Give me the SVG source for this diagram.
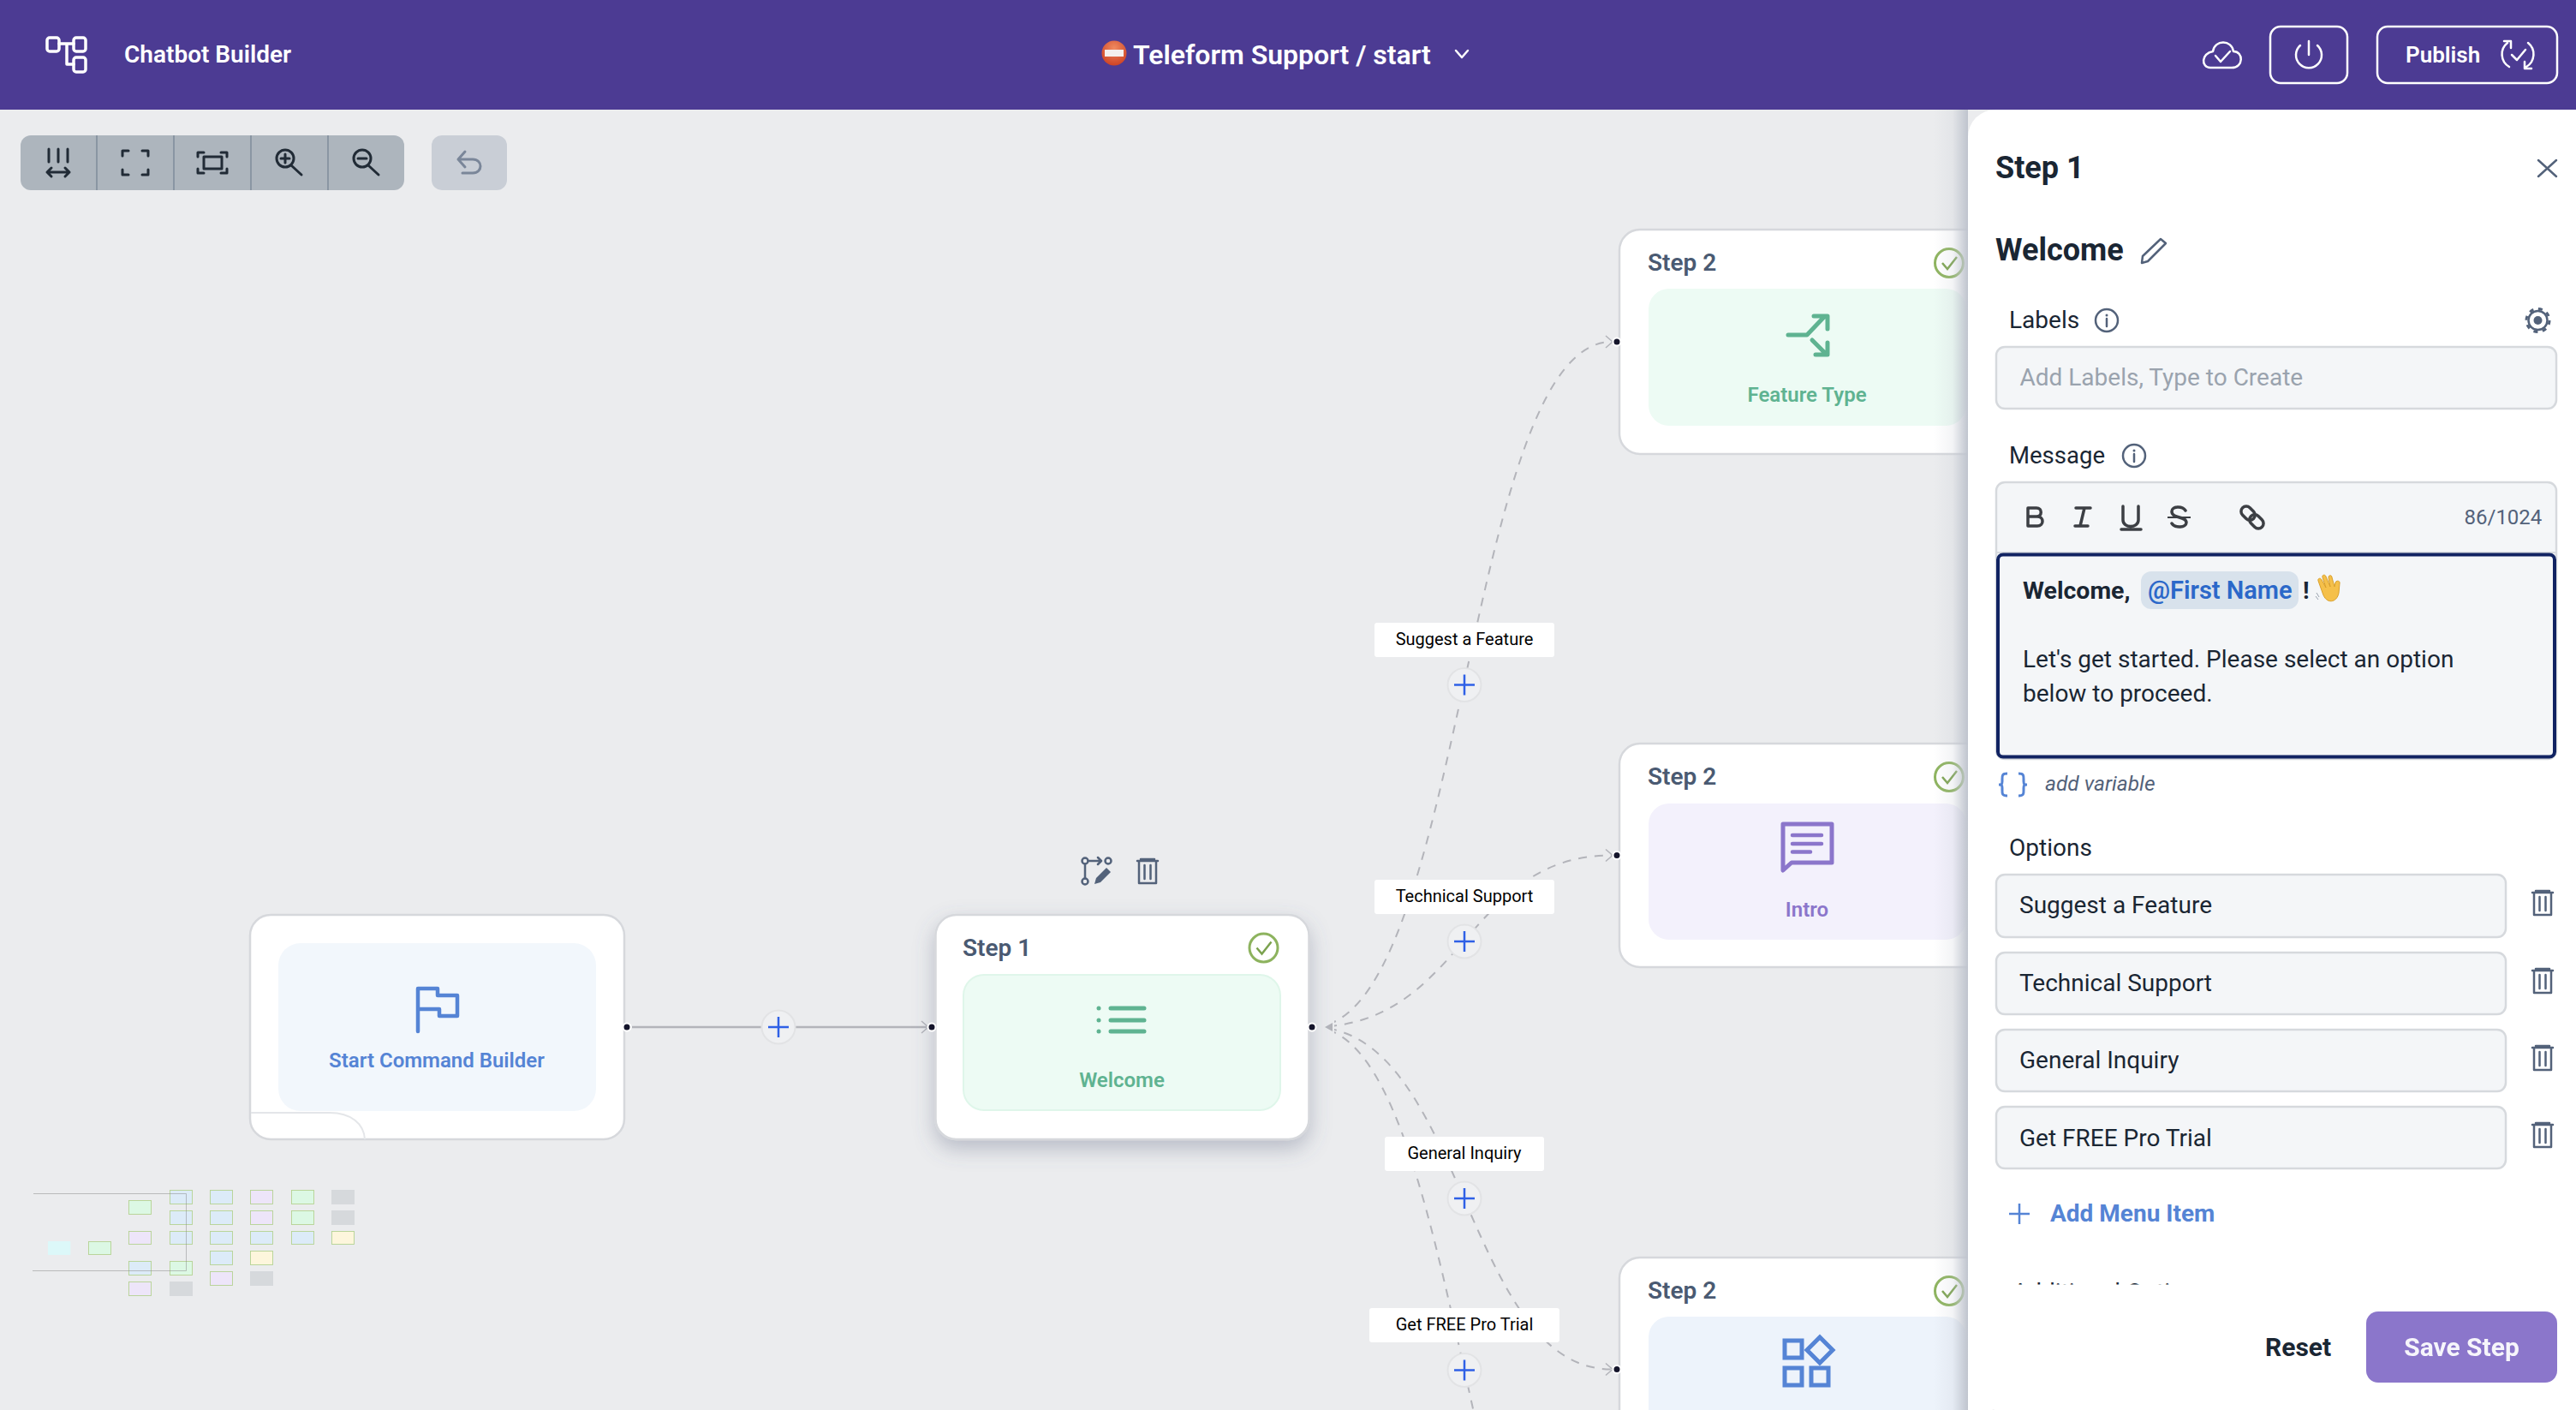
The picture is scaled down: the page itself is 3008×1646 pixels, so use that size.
<svg xmlns="http://www.w3.org/2000/svg" width="3008" height="1646" viewBox="0 0 3008 1646">
<style>
text{font-family:Roboto,"Liberation Sans",sans-serif}
.node{fill:#fff;stroke:#d6d8dc;stroke-width:2.5}
.step{font-size:28px;font-weight:600;fill:#4a5a72}
.cap{font-size:24px;font-weight:600;text-anchor:middle}
.edge{fill:none;stroke:#b3b4ba;stroke-width:2;stroke-dasharray:10 9}
.chev{fill:none;stroke:#b3b4ba;stroke-width:1.5}
.lab{fill:#fff}
.labt{font-size:20px;fill:#000;text-anchor:middle}
.pc{fill:#eff0f2;stroke:#e2e3e5;stroke-width:2}
.pl{stroke:#2f60e6;stroke-width:2.5;fill:none}
.h{fill:#15152b;stroke:#fff;stroke-width:2}
.tb{fill:none;stroke:#212b36;stroke-width:3;stroke-linecap:round;stroke-linejoin:round}
.wh{fill:none;stroke:#fff;stroke-width:2.5;stroke-linecap:round;stroke-linejoin:round}
.f{fill:#f4f6f8;stroke:#d6d9dd;stroke-width:2.5}
.ft{font-size:28px;fill:#1a2633}
.pd{font-size:28px;fill:#1a2633}
.ic{fill:none;stroke:#53627a;stroke-width:2.5;stroke-linecap:round;stroke-linejoin:round}
.rt{fill:none;stroke:#3c3f44;stroke-width:3.5;stroke-linecap:round;stroke-linejoin:round}
.mn{stroke:#b4d292;stroke-width:.9}
.gr{fill:#5fb391}.bl{fill:#5584d5}
</style>
<defs>
<symbol id="chk" overflow="visible"><circle r="16.5" fill="none" stroke="#8db35e" stroke-width="3"/><path d="M-8 0L-2 7L9-7" fill="none" stroke="#7ba24e" stroke-width="2.5"/></symbol>
<symbol id="bin" overflow="visible"><path class="ic" d="M-12-12H12M-8-14H8M-10-12V14H10V-12M-3.500-7V9M3.500-7V9"/></symbol>
<symbol id="info" overflow="visible"><circle r="13" class="ic" stroke-width="2"/><path d="M0-2V7" class="ic" stroke-width="2"/><circle cy="-6" r="1.500" fill="#53627a"/></symbol>
<filter id="sh" x="-20%" y="-20%" width="140%" height="150%"><feDropShadow dx="0" dy="10" stdDeviation="12" flood-color="#5a6480" flood-opacity=".35"/></filter>
<linearGradient id="pshade"><stop offset="0" stop-color="#bfc4ce" stop-opacity="0"/><stop offset=".55" stop-color="#bfc4ce" stop-opacity=".18"/><stop offset="1" stop-color="#bfc4ce"/></linearGradient>
<radialGradient id="stop" cx=".5" cy=".3" r=".8"><stop offset="0" stop-color="#f08a60"/><stop offset="1" stop-color="#c8391c"/></radialGradient>
<clipPath id="edgeclip"><rect x="1558" y="128" width="800" height="1518"/></clipPath>
<clipPath id="scrollclip"><rect x="2320" y="1400" width="688" height="99.500"/></clipPath>
</defs>
<rect width="3008" height="1646" fill="#ebecee"/>

<g id="header">
<rect width="3008" height="128" fill="#4c3b93"/>
<g class="wh" style="stroke-width:3.500"><rect x="55" y="44" width="14" height="16" rx="3"/><rect x="86" y="44" width="14" height="16" rx="3"/><rect x="86" y="67" width="14" height="17" rx="3"/><path d="M69 51H86M78 51V75H86"/></g>
<text x="145" y="73" font-size="28" font-weight="600" fill="#fff">Chatbot Builder</text>
<circle cx="1301" cy="62" r="14.500" fill="url(#stop)"/><rect x="1290" y="58" width="22" height="8" fill="#f4f0ee"/>
<text x="1323" y="75" font-size="32" font-weight="600" fill="#fff">Teleform Support / start</text>
<path class="wh" d="M1700 59L1707 67L1714 59"/>
<path class="wh" d="M2581 79H2606C2620 79 2620 60 2608 60C2606 46 2586 46 2584 60C2570 62 2570 79 2581 79ZM2587 65L2593 72L2604 60"/>
<rect x="2651" y="31" width="90" height="66" rx="12" class="wh"/>
<path class="wh" d="M2696 48V64M2686 53A15 15 0 1 0 2706 53"/>
<rect x="2776" y="31" width="210" height="66" rx="12" class="wh"/>
<text x="2809" y="73" font-size="26" font-weight="600" fill="#fff">Publish</text>
<path class="wh" d="M2928 50A17 17 0 0 0 2930 78M2952 50A17 17 0 0 1 2950 78M2924 48H2932V56M2956 80H2948V72M2933 64L2939 70L2949 58"/>
</g>

<g id="toolbar">
<rect x="24" y="158" width="448" height="64" rx="12" fill="#adb5bd"/>
<path d="M113 158V222M203 158V222M293 158V222M383 158V222" stroke="#8a96a3" stroke-width="2"/>
<path class="tb" d="M57 174V189M68 174V189M79 174V189M55 201H81M60 196L55 201L60 206M76 196L81 201L76 206"/>
<path class="tb" d="M143 182V176H150M166 176H173V182M143 198V204H150M166 204H173V198"/>
<path class="tb" d="M231 183V178H238M258 178H265V183M231 197V202H238M258 202H265V197"/><rect x="238" y="183" width="21" height="14" class="tb"/>
<circle cx="333" cy="185" r="10" class="tb"/><path class="tb" d="M340 193L352 204M328 185H338M333 180V190"/>
<circle cx="423" cy="185" r="10" class="tb"/><path class="tb" d="M430 193L442 204M418 185H428"/>
<rect x="504" y="158" width="88" height="64" rx="12" fill="#c9ced6"/>
<path class="tb" style="stroke:#7a8699" d="M543 177L535 186L543 195M535 186H552C564 186 564 202 552 202H540"/>
</g>

<g id="minimap">
<g class="mn">
<rect x="56" y="1449" width="26.300" height="16" fill="#dcf8f9" stroke="none"/>
<rect x="103.500" y="1449.500" width="26" height="15" fill="#dcf8e4"/>
<rect x="150.500" y="1401.500" width="26" height="16" fill="#dcf8e4"/><rect x="150.500" y="1437.500" width="26" height="15" fill="#ede5f9"/><rect x="150.500" y="1472.500" width="26" height="16" fill="#dcebf8"/><rect x="150.500" y="1496.500" width="26" height="16" fill="#ede5f9"/>
<rect x="198.500" y="1389.500" width="26" height="16" fill="#dcebf8"/><rect x="198.500" y="1413.500" width="26" height="16" fill="#dcebf8"/><rect x="198.500" y="1437.500" width="26" height="15" fill="#dcebf8"/><rect x="198.500" y="1472.500" width="26" height="16" fill="#dcf8e4"/><rect x="198" y="1496" width="27" height="17" fill="#d6d9dc" stroke="none"/>
<rect x="245.500" y="1389.500" width="26" height="16" fill="#dcebf8"/><rect x="245.500" y="1413.500" width="26" height="16" fill="#dcebf8"/><rect x="245.500" y="1437.500" width="26" height="15" fill="#dcebf8"/><rect x="245.500" y="1460.500" width="26" height="16" fill="#dcebf8"/><rect x="245.500" y="1484.500" width="26" height="16" fill="#ede5f9"/>
<rect x="292.500" y="1389.500" width="26" height="16" fill="#ede5f9"/><rect x="292.500" y="1413.500" width="26" height="16" fill="#ede5f9"/><rect x="292.500" y="1437.500" width="26" height="15" fill="#dcebf8"/><rect x="292.500" y="1460.500" width="26" height="16" fill="#fdf6dc"/><rect x="292" y="1484" width="27" height="17" fill="#d6d9dc" stroke="none"/>
<rect x="340.500" y="1389.500" width="26" height="16" fill="#dcf8e4"/><rect x="340.500" y="1413.500" width="26" height="16" fill="#dcf8e4"/><rect x="340.500" y="1437.500" width="26" height="15" fill="#dcebf8"/>
<rect x="387" y="1389" width="27" height="17" fill="#d6d9dc" stroke="none"/><rect x="387" y="1413" width="27" height="17" fill="#d6d9dc" stroke="none"/><rect x="387.500" y="1437.500" width="26" height="15" fill="#fdf6dc"/>
</g>
<path d="M39 1393.500H217.500V1483.500H38" fill="none" stroke="#888" stroke-opacity=".5" stroke-width="1"/>
</g>

<g id="start-node">
<rect x="292" y="1068" width="437" height="262" rx="24" class="node"/>
<rect x="325" y="1101" width="371" height="196" rx="26" fill="#f2f7fc"/>
<path d="M293 1299H385C410 1299 425 1312 426 1330" fill="none" stroke="#e4e6e9" stroke-width="2"/>
<path d="M488 1204V1154H511V1162H534V1186H513V1178H488" fill="none" stroke="#5584d5" stroke-width="4.500" stroke-linejoin="round" stroke-linecap="round"/>
<text x="510" y="1246" class="cap bl">Start Command Builder</text>
</g>

<g id="connectors">
<path d="M738 1199H1082" stroke="#b3b4ba" stroke-width="2.500" fill="none"/>
<path class="chev" d="M1076 1192L1084 1199L1076 1206"/>
<g clip-path="url(#edgeclip)">
<path class="edge" d="M1532 1199C1710 1199 1710 399 1882 399"/>
<path class="edge" d="M1532 1199C1710 1199 1710 998.500 1882 998.500"/>
<path class="edge" d="M1532 1199C1710 1199 1710 1598.500 1882 1598.500"/>
<path class="edge" d="M1532 1199C1710 1199 1710 2000 1888 2000"/>
</g>
<path d="M1547 1199L1556 1194V1204Z" fill="#b3b4ba"/>
<path class="chev" d="M1875 392L1883 399L1875 406M1875 991.500L1883 998.500L1875 1005.500M1875 1591.500L1883 1598.500L1875 1605.500"/>
<g id="add-start"><circle cx="909" cy="1199" r="19.500" class="pc"/><path class="pl" d="M897 1199H921M909 1187V1211"/></g>
<g id="edge-suggest"><rect x="1605" y="727" width="210" height="40" rx="3" class="lab"/><text x="1710" y="753" class="labt">Suggest a Feature</text><circle cx="1710" cy="799.500" r="19.500" class="pc"/><path class="pl" d="M1698 799.500H1722M1710 787.500V811.500"/></g>
<g id="edge-tech"><rect x="1605" y="1027" width="210" height="40" rx="3" class="lab"/><text x="1710" y="1053" class="labt">Technical Support</text><circle cx="1710" cy="1099" r="19.500" class="pc"/><path class="pl" d="M1698 1099H1722M1710 1087V1111"/></g>
<g id="edge-general"><rect x="1617" y="1327" width="186" height="40" rx="3" class="lab"/><text x="1710" y="1353" class="labt">General Inquiry</text><circle cx="1710" cy="1399" r="19.500" class="pc"/><path class="pl" d="M1698 1399H1722M1710 1387V1411"/></g>
<g id="edge-trial"><rect x="1599" y="1527" width="222" height="40" rx="3" class="lab"/><text x="1710" y="1553" class="labt">Get FREE Pro Trial</text><circle cx="1710" cy="1599.500" r="19.500" class="pc"/><path class="pl" d="M1698 1599.500H1722M1710 1587.500V1611.500"/></g>
</g>

<g id="step1-node">
<g id="step1-actions">
<circle cx="1267" cy="1005" r="3.500" class="ic"/><circle cx="1294" cy="1005" r="3.500" class="ic"/><circle cx="1267" cy="1029" r="3.500" class="ic"/>
<path class="ic" d="M1267 1009V1025M1272 1005H1285M1282 1001L1286 1005L1282 1009"/>
<path d="M1278 1032L1280 1025L1292 1013L1297 1018L1285 1030Z" fill="#53627a"/>
<use href="#bin" x="1340" y="1017"/>
</g>
<rect x="1092.500" y="1068" width="436" height="262" rx="24" class="node" filter="url(#sh)"/>
<text x="1124" y="1116" class="step">Step 1</text>
<use href="#chk" x="1475.500" y="1106.500"/>
<rect x="1125" y="1138" width="370" height="158" rx="24" fill="#edfbf4" stroke="#dff6ea" stroke-width="2"/>
<path d="M1297 1177H1336M1297 1191H1336M1297 1204H1336" stroke="#5fb391" stroke-width="5" stroke-linecap="round"/>
<circle cx="1283" cy="1177" r="2.500" class="gr"/><circle cx="1283" cy="1191" r="2.500" class="gr"/><circle cx="1283" cy="1204" r="2.500" class="gr"/>
<text x="1310" y="1269" class="cap gr">Welcome</text>
</g>

<g id="step2-feature">
<rect x="1891" y="268" width="437" height="262" rx="24" class="node"/>
<text x="1924" y="316" class="step">Step 2</text>
<use href="#chk" x="2276" y="307"/>
<rect x="1925" y="337" width="371" height="160" rx="24" fill="#edfbf4"/>
<path d="M2088 391H2110L2130 370M2118 369H2134V384M2116 397L2132 413M2134 400V414H2120" fill="none" stroke="#5fb391" stroke-width="5" stroke-linecap="round" stroke-linejoin="round"/>
<text x="2110" y="469" class="cap gr">Feature Type</text>
</g>
<g id="step2-intro">
<rect x="1891" y="868" width="437" height="261" rx="24" class="node"/>
<text x="1924" y="916" class="step">Step 2</text>
<use href="#chk" x="2276" y="907"/>
<rect x="1925" y="938" width="371" height="159" rx="24" fill="#f3f1fc"/>
<path d="M2082 962H2139V1007H2092L2082 1016Z" fill="none" stroke="#8b76cb" stroke-width="5" stroke-linejoin="round"/>
<path d="M2093 975H2127M2093 985H2127M2093 994.500H2114" stroke="#8b76cb" stroke-width="4.500" stroke-linecap="round"/>
<text x="2110" y="1070" class="cap" fill="#8b76cb">Intro</text>
</g>
<g id="step2-options">
<rect x="1891" y="1468" width="437" height="220" rx="24" class="node"/>
<text x="1924" y="1516" class="step">Step 2</text>
<use href="#chk" x="2276" y="1507"/>
<rect x="1925" y="1537" width="371" height="160" rx="24" fill="#edf3fb"/>
<g fill="none" stroke="#5584d5" stroke-width="5"><rect x="2084" y="1565" width="20" height="20"/><rect x="2084" y="1597" width="20" height="20"/><rect x="2115" y="1597" width="20" height="20"/><path d="M2125 1561L2140 1576L2125 1591L2110 1576Z"/></g>
</g>

<g id="handles">
<circle cx="732" cy="1199" r="4.500" class="h"/><circle cx="1088" cy="1199" r="4.500" class="h"/><circle cx="1532" cy="1199" r="4.500" class="h"/>
<circle cx="1888" cy="399" r="4.500" class="h"/><circle cx="1888" cy="998.500" r="4.500" class="h"/><circle cx="1888" cy="1598.500" r="4.500" class="h"/>
</g>

<g id="panel">
<rect x="2258" y="128" width="40" height="1518" fill="url(#pshade)"/>
<path d="M3008 128H2330A32 32 0 0 0 2298 160V1614A32 32 0 0 0 2330 1646H3008Z" fill="#fff"/>
<text x="2330" y="208" font-size="36" font-weight="700" fill="#1a2633">Step 1</text>
<path d="M2964 187L2985 206M2985 187L2964 206" class="ic"/>
<text x="2330" y="304" font-size="36" font-weight="700" fill="#1a2633">Welcome</text>
<path class="ic" d="M2502 299L2523 279L2529 284L2508 305L2501 307Z"/>
<text x="2346" y="383" class="pd">Labels</text>
<use href="#info" x="2460" y="374"/>
<g id="gear"><circle cx="2963.500" cy="374" r="11" class="ic"/><circle cx="2963.500" cy="374" r="13.500" fill="none" stroke="#53627a" stroke-width="3" stroke-dasharray="5 5.600"/><circle cx="2963.500" cy="374" r="5" fill="#53627a"/></g>
<rect x="2331" y="405" width="654" height="72" rx="10" class="f"/>
<text x="2358.500" y="450" font-size="28" fill="#9aa3ae">Add Labels, Type to Create</text>
<text x="2346" y="541" font-size="27.500" fill="#1a2633">Message</text>
<use href="#info" x="2492" y="532"/>
<rect x="2331" y="563" width="654" height="323" rx="10" class="f"/>
<path d="M2331 645H2985" stroke="#d6d9dd" stroke-width="2"/>
<g id="editor-tools">
<path class="rt" d="M2368 593V614H2379C2387 614 2387 603 2379 603H2368H2378C2385 603 2385 593 2378 593Z"/>
<path class="rt" d="M2424 593H2441M2423 614H2438M2434 593L2429 614"/>
<path class="rt" d="M2479 591V607C2479 617 2497 617 2497 607V591M2477 618H2500"/>
<path class="rt" d="M2552 596C2548 590 2536 591 2536 597C2536 606 2553 602 2553 610C2553 616 2540 617 2536 611"/><path d="M2531 604H2558" stroke="#3c3f44" stroke-width="2"/>
<g class="rt" transform="rotate(45 2630 604)"><rect x="2614" y="598" width="18" height="12" rx="6"/><rect x="2628" y="598" width="18" height="12" rx="6"/></g>
</g>
<text x="2877.500" y="612" font-size="24" fill="#53627a">86/1024</text>
<rect x="2333" y="647.500" width="650" height="236" rx="6" fill="#f4f6f8" stroke="#112362" stroke-width="4"/>
<text x="2362" y="699" font-size="28.500" font-weight="700" fill="#1a2633">Welcome,</text>
<rect x="2500" y="667" width="184" height="44" rx="12" fill="#d8e2ec"/>
<text x="2508" y="699" font-size="29" font-weight="600" fill="#2b68c9">@First Name</text>
<text x="2689" y="699" font-size="28" font-weight="700" fill="#1a2633">!</text>
<g id="wave"><path d="M2712 692L2707 678C2706 675 2710 674 2711 677L2716 686L2712 674C2711 671 2715 670 2716 673L2721 685L2719 674C2719 671 2723 671 2723 674L2726 685L2727 680C2728 677 2733 678 2732 681L2731 692C2729 704 2716 706 2712 692Z" fill="#f5c04a" stroke="#d99f2b" stroke-width="1"/><path d="M2705 692L2708 697M2704 696L2707 700" stroke="#9aa3ae" stroke-width="1"/></g>
<text x="2362" y="779" class="pd">Let's get started. Please select an option</text>
<text x="2362" y="819" class="pd">below to proceed.</text>
<path d="M2344 903C2337 903 2338 906 2338 912C2338 916 2337 916 2334 916C2337 916 2338 916 2338 920C2338 926 2337 929 2344 929M2357 903C2364 903 2363 906 2363 912C2363 916 2364 916 2367 916C2364 916 2363 916 2363 920C2363 926 2364 929 2357 929" fill="none" stroke="#5584d5" stroke-width="3"/>
<text x="2388" y="923" font-size="24.500" font-style="italic" fill="#53627a">add variable</text>
<text x="2346" y="999" class="pd">Options</text>
<g id="option-1"><rect x="2331" y="1021" width="595" height="73" rx="10" class="f"/><text x="2358" y="1066" class="ft">Suggest a Feature</text><use href="#bin" x="2969" y="1054"/></g>
<g id="option-2"><rect x="2331" y="1112" width="595" height="72" rx="10" class="f"/><text x="2358" y="1157" class="ft">Technical Support</text><use href="#bin" x="2969" y="1145"/></g>
<g id="option-3"><rect x="2331" y="1202" width="595" height="72" rx="10" class="f"/><text x="2358" y="1247" class="ft">General Inquiry</text><use href="#bin" x="2969" y="1235"/></g>
<g id="option-4"><rect x="2331" y="1292" width="595" height="72" rx="10" class="f"/><text x="2358" y="1337.500" class="ft">Get FREE Pro Trial</text><use href="#bin" x="2969" y="1325"/></g>
<path d="M2346 1417H2370M2358 1405V1429" stroke="#5584d5" stroke-width="2.500"/>
<text x="2394" y="1426" font-size="28" font-weight="700" fill="#5584d5">Add Menu Item</text>
<text x="2350" y="1518" font-size="28" fill="#1a2633" clip-path="url(#scrollclip)">Additional Options</text>
<text x="2645" y="1583" font-size="30" font-weight="700" fill="#1a2633">Reset</text>
<rect x="2763" y="1531" width="223" height="83" rx="14" fill="#8b76cb"/>
<text x="2874.500" y="1583" font-size="30" font-weight="700" fill="#fff" text-anchor="middle" opacity=".93">Save Step</text>
</g>
</svg>
